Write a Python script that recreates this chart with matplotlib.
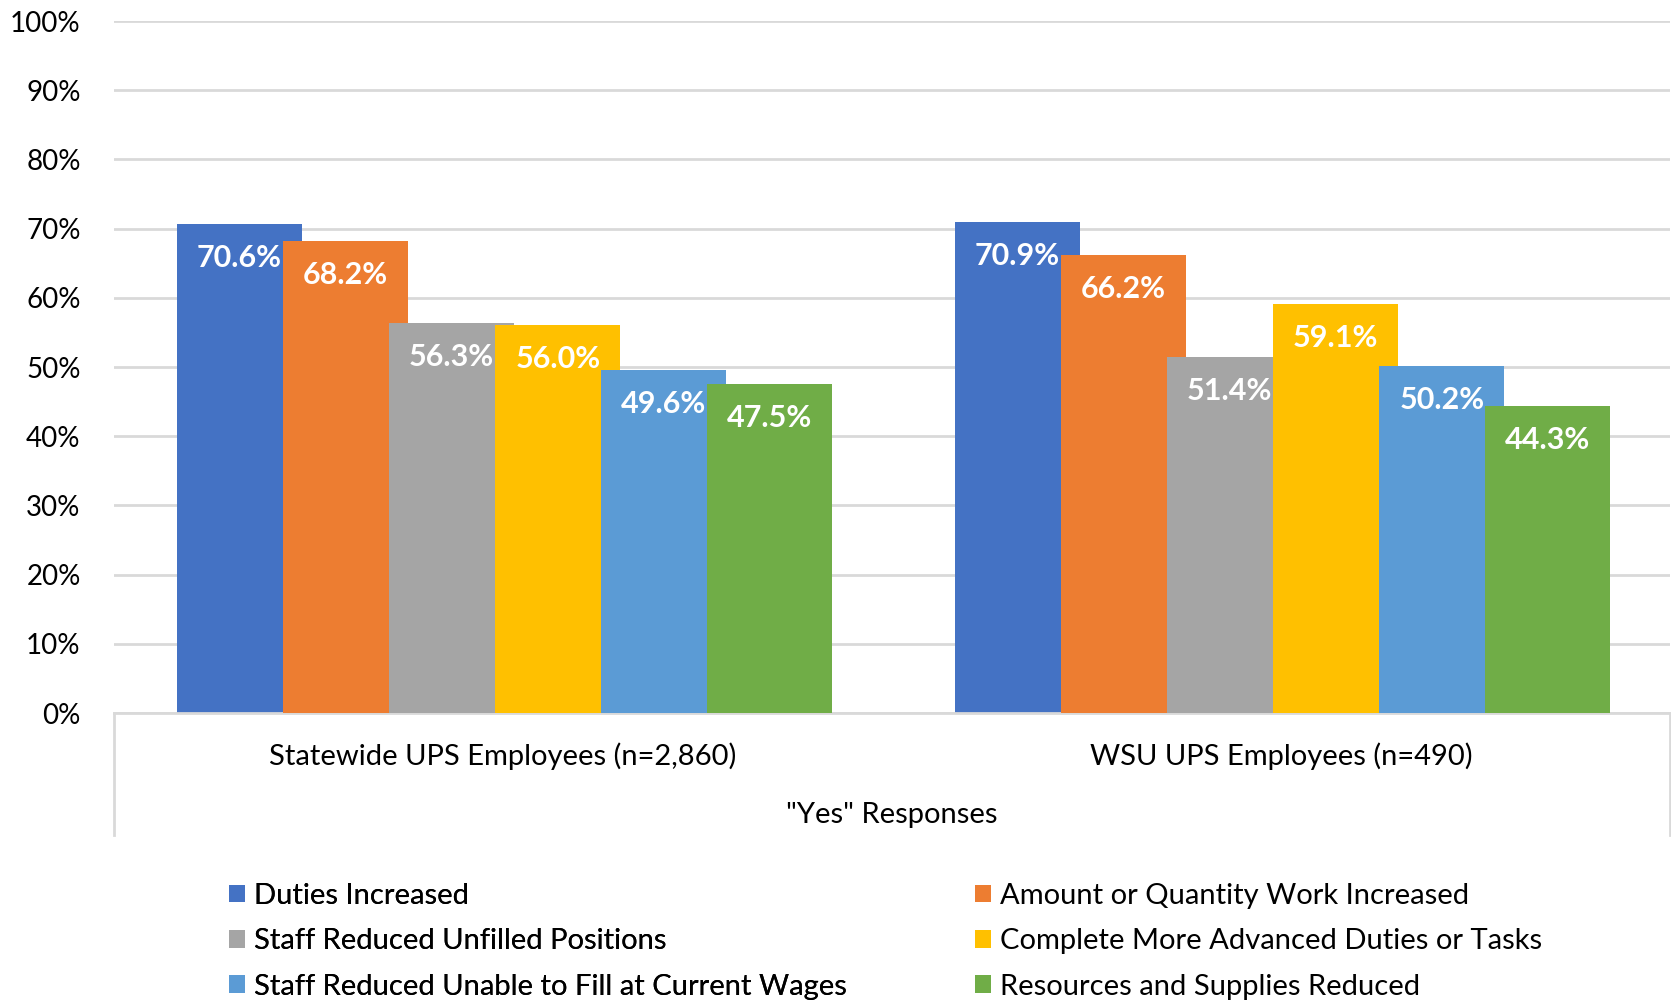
import numpy as np
import matplotlib
matplotlib.use('Agg')
from matplotlib import pyplot as plt
from matplotlib.lines import Line2D

plt.rcParams['font.family'] = ['Lato', 'DejaVu Sans']

groups = ['Statewide UPS Employees (n=2,860)', 'WSU UPS Employees (n=490)']
series = ['Duties Increased',
          'Amount or Quantity Work Increased',
          'Staff Reduced Unfilled Positions',
          'Complete More Advanced Duties or Tasks',
          'Staff Reduced Unable to Fill at Current Wages',
          'Resources and Supplies Reduced']
statewide = [70.6, 68.2, 56.3, 56.0, 49.6, 47.5]
wsu = [70.9, 66.2, 51.4, 59.1, 50.2, 44.3]
colors = ['#4472C4', '#ED7D31', '#A5A5A5', '#FFC000', '#5B9BD5', '#70AD47']

vals = np.array([statewide, wsu]).T  # series x groups
x = np.arange(len(groups))

fig = plt.figure(figsize=(16.71, 10), dpi=100)
ax = fig.add_axes([0.0682, 0.287, 0.9312, 0.692])

step = 0.1363
width = 0.161
handles = []
for i in range(len(series)):
    off = -0.3385 + i * step
    b = ax.bar(x + off, vals[i], width, color=colors[i], label=series[i], zorder=2 + i)
    handles.append(b)
    for xi, v in zip(x + off, vals[i]):
        ax.annotate('{:.1f}%'.format(v), (xi, v), xytext=(0, -34), textcoords='offset pixels',
                    ha='center', va='center', color='white', fontweight='bold',
                    fontsize=22, zorder=20)

ax.set_xlim(-0.5, 1.5)
ax.set_ylim(0, 100)
ax.set_yticks(np.arange(0, 101, 10))
ax.set_yticklabels(['{}%'.format(t) for t in range(0, 101, 10)], fontsize=20, color='#000000')
ax.set_xticks(x)
ax.set_xticklabels(groups, fontsize=21)
ax.tick_params(axis='y', length=0, pad=24)
ax.tick_params(axis='x', length=0, pad=21)
ax.yaxis.grid(True, color='#D9D9D9', linewidth=2, zorder=0)
ax.set_axisbelow(True)
for sp in ['top', 'right', 'left']:
    ax.spines[sp].set_visible(False)
ax.spines['bottom'].set_color('#D9D9D9')
ax.spines['bottom'].set_linewidth(2)

ax.set_xlabel('"Yes" Responses', fontsize=21, va='center')
ax.xaxis.set_label_coords(0.5, -0.147)

# category box side lines
for xx in [0, 1]:
    ax.add_line(Line2D([xx, xx], [0, -0.176], transform=ax.transAxes, color='#D9D9D9',
                       linewidth=2, clip_on=False))

leg_kw = dict(loc='upper left', frameon=False, fontsize=21, borderpad=0, borderaxespad=0,
              handlelength=0.55, handleheight=0.55, handletextpad=0.32, labelspacing=0.66)
leg1 = fig.legend(handles[0::2], series[0::2], bbox_to_anchor=(229 / 1671, 1 - 883 / 1000), **leg_kw)
leg2 = fig.legend(handles[1::2], series[1::2], bbox_to_anchor=(975 / 1671, 1 - 883 / 1000), **leg_kw)
fig.add_artist(leg1)

fig.savefig('out.png', dpi=100)
